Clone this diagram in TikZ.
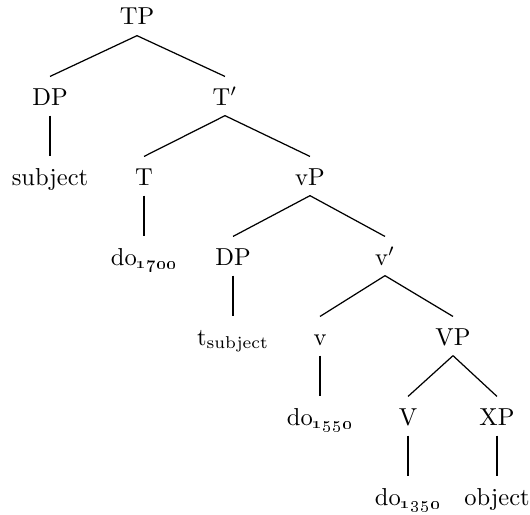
\documentclass[tikz,border=0pt]{standalone}
\usepackage{tikz}

\begin{document}
\begin{tikzpicture}[-,x=0.408pt,y=-0.408pt,line width=0.5pt,
  tree node/.style={anchor=base,inner xsep=2pt,inner ysep=3.5pt,text height=7.9pt,text depth=0.6pt}]
  \useasboundingbox (0,0) rectangle (530,514);
  % nodes, placed at their baselines
  \node[tree node] (TP) at (137,25) {TP};
  \node[tree node] (DPa) at (50,105) {DP};
  \node[tree node] (Tbar) at (225,105) {T$'$};
  \node[tree node] (subj) at (50,185) {subject};
  \node[tree node] (T) at (144,185) {T};
  \node[tree node] (vP) at (310,185) {vP};
  \node[tree node] (do1) at (144,265) {do\textsubscript{\oldstylenums{1700}}};
  \node[tree node] (DPb) at (233,265) {DP};
  \node[tree node] (vbar) at (385,265) {v$'$};
  \node[tree node] (trace) at (233,345) {t\textsubscript{subject}};
  \node[tree node] (v) at (320,345) {v};
  \node[tree node] (VP) at (453,345) {VP};
  \node[tree node] (do2) at (320,425) {do\textsubscript{\oldstylenums{1550}}};
  \node[tree node] (V) at (408,425) {V};
  \node[tree node] (XP) at (497,425) {XP};
  \node[tree node] (do3) at (408,505) {do\textsubscript{\oldstylenums{1350}}};
  \node[tree node] (obj) at (497,505) {object};
  % branches
  \path[draw]
    (TP.south) edge (DPa.north)
               edge (Tbar.north)
    (DPa.south) edge (subj.north)
    (Tbar.south) edge (T.north)
                 edge (vP.north)
    (T.south) edge (do1.north)
    (vP.south) edge (DPb.north)
               edge (vbar.north)
    (DPb.south) edge (trace.north)
    (vbar.south) edge (v.north)
                 edge (VP.north)
    (v.south) edge (do2.north)
    (VP.south) edge (V.north)
               edge (XP.north)
    (V.south) edge (do3.north)
    (XP.south) edge (obj.north);
\end{tikzpicture}
\end{document}
